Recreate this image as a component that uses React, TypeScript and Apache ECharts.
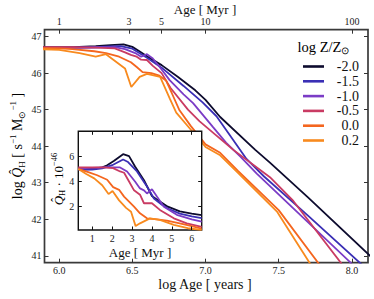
import React, { useEffect, useRef } from "react";
import * as echarts from "echarts";

// ---------- data ----------
const legendLabels = ["-2.0", "-1.5", "-1.0", "-0.5", "0.0", "0.2"];

// main panel: log age [yr] vs log Q_H
const mainAgeM20 = [5.85, 6.1, 6.25, 6.35, 6.44, 6.5, 6.54, 6.6, 6.7, 6.81, 6.93, 7.0, 7.1, 7.34, 7.44, 7.7, 8.15];
const mainQM20 = [46.71, 46.71, 46.74, 46.77, 46.79, 46.72, 46.62, 46.46, 46.22, 45.9, 45.53, 45.27, 44.8, 43.9, 43.55, 42.6, 40.9];
const mainAgeM15 = [5.85, 6.1, 6.25, 6.35, 6.42, 6.5, 6.6, 6.7, 6.85, 6.98, 7.075, 7.17, 7.28, 7.4, 7.7, 8.07];
const mainQM15 = [46.69, 46.69, 46.71, 46.73, 46.74, 46.67, 46.42, 46.15, 45.65, 45.2, 44.82, 44.28, 43.65, 43.17, 42.1, 40.75];
const mainAgeM10 = [5.85, 6.1, 6.25, 6.38, 6.45, 6.52, 6.56, 6.6, 6.64, 6.7, 6.755, 6.85, 6.915, 7.05, 7.14, 7.24, 7.35, 7.6, 8.0];
const mainQM10 = [46.7, 46.7, 46.71, 46.71, 46.66, 46.55, 46.45, 46.52, 46.4, 46.1, 45.81, 45.42, 45.18, 44.53, 44.1, 43.71, 43.25, 42.3, 40.78];
const mainAgeM05 = [5.85, 6.1, 6.25, 6.38, 6.45, 6.49, 6.53, 6.56, 6.6, 6.64, 6.7, 6.76, 6.88, 6.96, 7.19, 7.44, 7.6, 7.93];
const mainQM05 = [46.71, 46.71, 46.7, 46.68, 46.57, 46.5, 46.45, 46.37, 46.36, 46.2, 46.0, 45.6, 45.0, 44.68, 43.9, 43.15, 42.5, 40.78];
const mainAgeP00 = [5.85, 6.0, 6.09, 6.24, 6.32, 6.41, 6.49, 6.53, 6.57, 6.63, 6.68, 6.73, 6.77, 6.82, 6.9, 7.0, 7.1, 7.22, 7.5, 7.78];
const mainQP00 = [46.69, 46.68, 46.66, 46.6, 46.55, 46.45, 46.3, 46.17, 46.03, 46.0, 45.94, 45.8, 45.45, 45.0, 44.55, 44.05, 43.82, 43.33, 42.25, 40.75];
const mainAgeP02 = [5.85, 6.0, 6.14, 6.25, 6.32, 6.45, 6.493, 6.55, 6.6, 6.69, 6.756, 6.8, 6.9, 7.0, 7.1, 7.22, 7.49, 7.72];
const mainQP02 = [46.66, 46.64, 46.55, 46.45, 46.52, 46.13, 45.62, 45.9, 45.98, 45.9, 45.3, 44.92, 44.45, 43.98, 43.75, 43.28, 42.2, 40.75];

// inset: age [Myr] vs Q_H / 1e46
const insetAgeM20 = [0.3, 1.0, 1.45, 1.75, 2.1, 2.55, 2.85, 3.15, 3.6, 4.0, 4.4, 4.8, 5.4, 6.0, 6.5];
const insetQM20 = [5.0, 5.02, 5.1, 5.3, 5.65, 6.18, 6.02, 5.2, 4.1, 2.85, 2.4, 2.0, 1.62, 1.45, 1.33];
const insetAgeM15 = [0.3, 1.0, 1.5, 2.0, 2.55, 2.8, 3.25, 3.75, 4.1, 4.5, 4.8, 5.4, 6.0, 6.5];
const insetQM15 = [4.93, 4.95, 5.05, 5.3, 5.75, 5.55, 4.8, 3.6, 2.65, 2.15, 1.85, 1.45, 1.22, 1.08];
const insetAgeM10 = [0.3, 1.0, 1.6, 2.4, 2.75, 3.15, 3.4, 3.6, 3.75, 4.0, 4.25, 4.6, 5.25, 6.0, 6.5];
const insetQM10 = [5.05, 5.08, 5.12, 5.12, 4.8, 4.0, 3.45, 3.3, 3.05, 3.38, 2.8, 2.0, 1.35, 0.98, 0.8];
const insetAgeM05 = [0.3, 1.0, 1.6, 2.05, 2.4, 2.6, 2.85, 3.1, 3.4, 3.6, 4.0, 4.4, 5.1, 5.75, 6.5];
const insetQM05 = [5.12, 5.12, 5.12, 5.07, 4.8, 4.7, 4.0, 3.3, 2.95, 2.27, 2.27, 1.74, 1.07, 0.67, 0.38];
const insetAgeP00 = [0.3, 0.8, 1.25, 1.75, 2.05, 2.35, 2.6, 2.85, 3.1, 3.4, 3.75, 4.25, 4.75, 5.4, 6.0, 6.5];
const insetQP00 = [5.0, 4.75, 4.5, 4.14, 3.55, 3.34, 2.8, 2.4, 2.0, 1.47, 1.07, 0.99, 0.88, 0.67, 0.45, 0.25];
const insetAgeP02 = [0.3, 0.7, 1.1, 1.5, 1.82, 2.02, 2.35, 2.7, 2.95, 3.18, 3.4, 3.9, 4.4, 5.1, 5.8, 6.5];
const insetQP02 = [5.0, 4.6, 4.25, 3.7, 3.0, 3.25, 2.5, 1.9, 1.6, 0.45, 0.67, 1.07, 0.95, 0.55, 0.28, 0.15];

// ticks
const mainXTicks = [6.0, 6.5, 7.0, 7.5, 8.0];
const mainYTicks = [41, 42, 43, 44, 45, 46, 47];
const topTickMyr = [1, 3, 5, 10, 100];
const topTickLabels = ["1", "3", "5", "10", "100"];
const insetXTicks = [1, 2, 3, 4, 5, 6];
const insetYTicks = [2, 4, 6];

// ---------- styles / layout ----------
const COLORS = ["#0d0b2e", "#3a2fb5", "#7b3cc6", "#c93b63", "#f4661f", "#f88a1e"];
const FONT = "serif";
const MAIN = { left: 44.5, top: 29.7, width: 323.5, height: 233 };
const INSET = { left: 78.3, top: 131.3, width: 123.4, height: 98.7 };

const zip = (xs: number[], ys: number[]) => xs.map((x, i) => [x, ys[i]]);

export default function App() {
  const ref = useRef<HTMLDivElement>(null);
  useEffect(() => {
    if (!ref.current) return;
    const chart = echarts.init(ref.current, null, { renderer: "svg" });

    const mainSets = [
      [mainAgeM20, mainQM20], [mainAgeM15, mainQM15], [mainAgeM10, mainQM10],
      [mainAgeM05, mainQM05], [mainAgeP00, mainQP00], [mainAgeP02, mainQP02],
    ];
    const insetSets = [
      [insetAgeM20, insetQM20], [insetAgeM15, insetQM15], [insetAgeM10, insetQM10],
      [insetAgeM05, insetQM05], [insetAgeP00, insetQP00], [insetAgeP02, insetQP02],
    ];
    const topTickPos = topTickMyr.map((m) => Math.log10(m) + 6);

    const tick = (vals: number[], len = 4, color = "#333") => ({
      show: true, inside: true, length: len, customValues: vals,
      lineStyle: { color, width: 1 },
    });
    const lbl = (vals: number[], margin: number, fmt: any, size = 10) => ({
      show: true, customValues: vals, margin, formatter: fmt,
      fontFamily: FONT, fontSize: size, color: "#222",
    });
    const noLbl = { show: false };

    const series: any[] = [];
    mainSets.forEach(([xs, ys], i) => {
      series.push({
        type: "line", name: legendLabels[i], xAxisIndex: 0, yAxisIndex: 0,
        data: zip(xs, ys), showSymbol: false, symbol: "none", z: 2,
        lineStyle: { width: 1.8, color: COLORS[i] }, itemStyle: { color: COLORS[i] },
        silent: true,
      });
    });
    insetSets.forEach(([xs, ys], i) => {
      series.push({
        type: "line", name: legendLabels[i], xAxisIndex: 2, yAxisIndex: 2,
        data: zip(xs, ys), showSymbol: false, symbol: "none", z: 4,
        lineStyle: { width: 1.8, color: COLORS[i] }, itemStyle: { color: COLORS[i] },
        silent: true,
      });
    });

    const rBase = { fontFamily: FONT, color: "#111", fontWeight: "normal" as const };

    chart.setOption({
      animation: false,
      backgroundColor: "#fff",
      textStyle: { fontFamily: FONT, fontWeight: "normal" },
      grid: [
        { ...MAIN, show: true, borderColor: "#3a3a3a", borderWidth: 1.7, backgroundColor: "transparent", z: 0 },
        { ...INSET, show: true, borderColor: "#111", borderWidth: 1.4, backgroundColor: "#fff", z: 3 },
      ],
      xAxis: [
        { gridIndex: 0, type: "value", min: 5.9, max: 8.11, position: "bottom",
          axisLine: { show: false }, splitLine: { show: false },
          axisTick: tick(mainXTicks), axisLabel: lbl(mainXTicks, 3, (v: number) => v.toFixed(1)) },
        { gridIndex: 0, type: "value", min: 5.9, max: 8.11, position: "top",
          axisLine: { show: false }, splitLine: { show: false },
          axisTick: tick(topTickPos),
          axisLabel: lbl(topTickPos, 3, (v: number) => {
            const i = topTickPos.findIndex((p) => Math.abs(p - v) < 1e-6);
            return i >= 0 ? topTickLabels[i] : "";
          }) },
        { gridIndex: 1, type: "value", min: 0.3, max: 6.5, position: "bottom", z: 5,
          axisLine: { show: false }, splitLine: { show: false },
          axisTick: tick(insetXTicks, 3.5, "#111"), axisLabel: lbl(insetXTicks, 3, (v: number) => String(v)) },
        { gridIndex: 1, type: "value", min: 0.3, max: 6.5, position: "top", z: 5,
          axisLine: { show: false }, splitLine: { show: false },
          axisTick: tick(insetXTicks, 3.5, "#111"), axisLabel: noLbl },
      ],
      yAxis: [
        { gridIndex: 0, type: "value", min: 40.81, max: 47.19, position: "left",
          axisLine: { show: false }, splitLine: { show: false },
          axisTick: tick(mainYTicks), axisLabel: lbl(mainYTicks, 3, (v: number) => String(v)) },
        { gridIndex: 0, type: "value", min: 40.81, max: 47.19, position: "right",
          axisLine: { show: false }, splitLine: { show: false },
          axisTick: tick(mainYTicks), axisLabel: noLbl },
        { gridIndex: 1, type: "value", min: 0.14, max: 8.0, position: "left", z: 5,
          axisLine: { show: false }, splitLine: { show: false },
          axisTick: tick(insetYTicks, 3.5, "#111"), axisLabel: lbl(insetYTicks, 4, (v: number) => String(v)) },
        { gridIndex: 1, type: "value", min: 0.14, max: 8.0, position: "right", z: 5,
          axisLine: { show: false }, splitLine: { show: false },
          axisTick: tick(insetYTicks, 3.5, "#111"), axisLabel: noLbl },
      ],
      legend: {
        orient: "vertical", left: 298, top: 54.5, itemWidth: 21, itemHeight: 2.6,
        itemGap: 0.8, icon: "rect", selectedMode: false,
        data: legendLabels,
        formatter: (name: string) => `{n|${name}}`,
        textStyle: {
          fontFamily: FONT, fontSize: 14, color: "#111", lineHeight: 12.5, fontWeight: "normal",
          rich: { n: { fontFamily: FONT, fontSize: 14, width: 30, align: "right", lineHeight: 12.5, fontWeight: "normal" } },
        },
      },
      graphic: [
        { type: "text", x: 205, y: 9.5, style: { text: "Age [ Myr ]", font: "normal 13px serif", fill: "#111", align: "center", verticalAlign: "middle" } },
        { type: "text", x: 205, y: 284.5, style: { text: "log Age [ years ]", font: "normal 14px serif", fill: "#111", align: "center", verticalAlign: "middle" } },
        { type: "text", x: 140, y: 252.5, style: { text: "Age [ Myr ]", font: "normal 13px serif", fill: "#111", align: "center", verticalAlign: "middle" } },
        {
          type: "text", x: 17, y: 146, rotation: Math.PI / 2,
          style: {
            text: "{r|log }{q|Q\u0302}{sub|H}{r| [ s}{sup|\u22121}{r| M}{sub|\u2299}{sup|\u22121}{r| ]}",
            align: "center", verticalAlign: "middle",
            rich: {
              r: { ...rBase, fontSize: 14, lineHeight: 18 },
              q: { ...rBase, fontSize: 14, lineHeight: 18, fontStyle: "italic" },
              sub: { ...rBase, fontSize: 9, lineHeight: 9, verticalAlign: "bottom" },
              sup: { ...rBase, fontSize: 9, lineHeight: 9, verticalAlign: "top" },
            },
          },
        },
        {
          type: "text", x: 58, y: 179, rotation: Math.PI / 2,
          style: {
            text: "{q|Q\u0302}{sub|H}{r| \u00b7 10}{sup|\u221246}",
            align: "center", verticalAlign: "middle",
            rich: {
              r: { ...rBase, fontSize: 13, lineHeight: 17 },
              q: { ...rBase, fontSize: 13, lineHeight: 17, fontStyle: "italic" },
              sub: { ...rBase, fontSize: 8.5, lineHeight: 8.5, verticalAlign: "bottom" },
              sup: { ...rBase, fontSize: 8.5, lineHeight: 8.5, verticalAlign: "top" },
            },
          },
        },
        {
          type: "text", x: 297.5, y: 47,
          style: {
            text: "{r|log Z/Z}{sub|\u2299}",
            align: "left", verticalAlign: "middle",
            rich: {
              r: { ...rBase, fontSize: 14.5, lineHeight: 18 },
              sub: { ...rBase, fontSize: 9.5, lineHeight: 9.5, verticalAlign: "bottom" },
            },
          },
        },
      ],
      series,
    });
    return () => chart.dispose();
  }, []);
  return <div ref={ref} style={{ position: "fixed", left: 0, top: 0, width: 374, height: 299 }} />;
}
